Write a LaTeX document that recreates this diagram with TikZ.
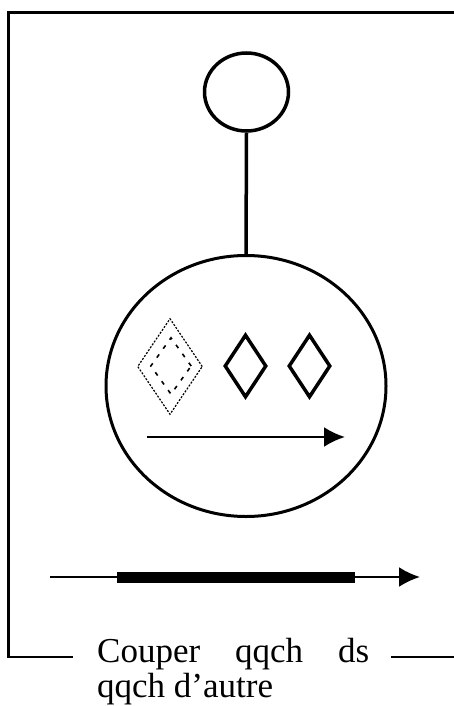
\documentclass[tikz,border=0pt]{standalone}
\usepackage{fontspec}
\setmainfont{Liberation Serif}
\usetikzlibrary{shapes.geometric,arrows.meta}
\tikzset{
  framestyle/.style={line width=2.5pt, line cap=rect},
  bigcirc/.style={ellipse, draw, line width=3pt, inner sep=0pt},
  soliddia/.style={diamond, draw, line width=3.5pt, inner sep=0pt, minimum width=42pt, minimum height=63pt},
  outerdia/.style={diamond, draw, line width=1.2pt, dash pattern=on 2pt off 1.5pt, inner sep=0pt, minimum width=65pt, minimum height=96pt},
  innerdia/.style={diamond, draw, line width=1.6pt, dash pattern=on 4pt off 7pt, inner sep=0pt, minimum width=41pt, minimum height=57pt},
  arr/.style={line width=2.5pt, -{Latex[length=21pt,width=20pt]}},
  labeltext/.style={anchor=base west, inner sep=0pt, font=\fontsize{35}{35}\selectfont},
}
\begin{document}
\begin{tikzpicture}[x=1pt,y=-1pt]
\useasboundingbox (0,0) rectangle (454,706);
% frame
\coordinate (fbl) at (72,657);
\coordinate (fcl) at (8.5,657);
\coordinate (ftl) at (8.5,12.5);
\coordinate (ftr) at (455,12.5);
\coordinate (fbr1) at (392,657);
\coordinate (fbr2) at (455,657);
\draw[framestyle] (fbl) -- (fcl) -- (ftl) -- (ftr);
\draw[framestyle] (fbr1) -- (fbr2);
% circles
\node[bigcirc, line width=3.5pt, minimum width=84pt, minimum height=78pt] (head) at (246.5,92) {};
\node[bigcirc, minimum width=280pt, minimum height=261pt] (body) at (246,386) {};
\draw[line width=3.5pt] (head.south) -- (body.north);
% diamonds
\node[outerdia] (d1) at (170,366.5) {};
\node[innerdia] (d1i) at (171,366) {};
\node[soliddia] (d2) at (245.5,366) {};
\node[soliddia] (d3) at (309.5,366) {};
% inner arrow
\coordinate (a1s) at (147,437);
\coordinate (a1e) at (345,437);
\draw[arr] (a1s) -- (a1e);
% bottom arrow
\coordinate (a2s) at (50,577);
\coordinate (a2e) at (420,577);
\coordinate (b2s) at (117,577);
\coordinate (b2e) at (355,577);
\draw[arr] (a2s) -- (a2e);
\draw[line width=11pt] (b2s) -- (b2e);
% text
\node[labeltext] (t1) at (97,662) {\hbox to 272pt{Couper\hfill qqch\hfill ds}};
\node[labeltext] (t2) at (97,697) {qqch d’autre};
\end{tikzpicture}
\end{document}
